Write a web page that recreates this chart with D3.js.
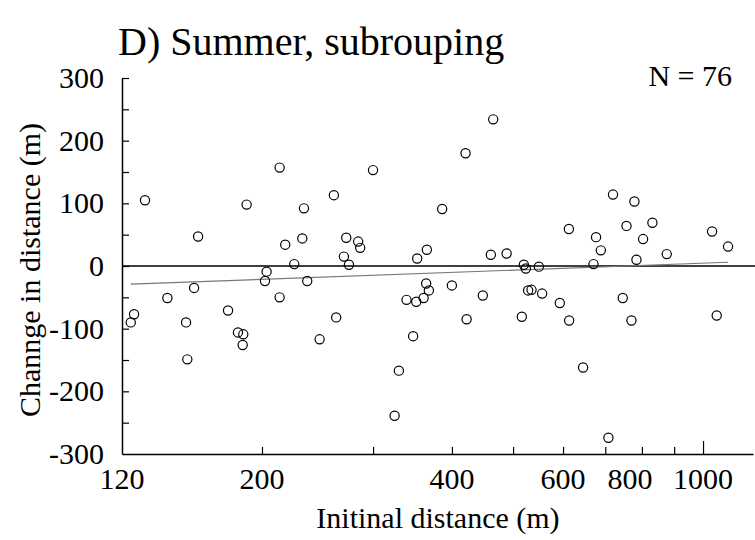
<!DOCTYPE html>
<html>
<head>
<meta charset="utf-8">
<script src="https://cdn.jsdelivr.net/npm/d3@7"></script>
<style>
  body { margin: 0; background: #fff; }
  svg { display: block; }
  text { font-family: "Liberation Serif", "Times New Roman", serif; fill: #000; }
</style>
</head>
<body>
<svg id="chart" width="755" height="540"></svg>
<script>
// initial distance (m) and change in distance (m)
var initialDistance = [
  123.9, 125.4, 130.5, 141.6, 151.6, 152.3, 156.1, 158.4, 176.7, 183.2,
  186.8, 186.4, 189.1, 213.3, 299.9, 465.0, 420.4, 260.0, 233.1, 386.0,
  217.7, 231.7, 272.0, 284.1, 286.2, 225.0, 269.7, 274.7, 203.4, 202.2,
  235.9, 352.4, 365.0, 461.0, 488.3, 213.3, 364.1, 367.7, 399.9, 447.7,
  262.2, 246.8, 338.9, 351.1, 360.7, 422.0, 347.2, 329.6, 324.5, 720.0,
  778.5, 612.9, 676.8, 688.7, 756.3, 831.3, 803.5, 1033.5, 1095.6, 876.0,
  784.3, 670.5, 520.0, 523.8, 549.3, 528.2, 534.8, 555.9, 592.9, 746.1,
  516.2, 613.5, 770.1, 1051.2, 645.5, 708.0
];
var changeInDistance = [
  -90, -77, 105, -51, -90, -149, -35, 47, -71, -106,
  -109, -126, 98, 157, 153, 234, 180, 113, 92, 91,
  34, 44, 45, 39, 29, 3, 15, 2, -9, -24,
  -24, 12, 26, 18, 20, -50, -28, -39, -31, -47,
  -82, -117, -54, -57, -51, -85, -112, -167, -239, 114,
  103, 59, 46, 25, 64, 69, 43, 55, 31, 19,
  10, 3, 2, -4, -1, -39, -38, -44, -59, -51,
  -81, -87, -87, -79, -162, -274
];

// fitted line, end points
var fitX = [123.9, 1095.6];
var fitY = [-29, 6];

var xTickValues = [200, 300, 400, 500, 600, 700, 800, 900, 1000];
var xTickLabels = [120, 200, 400, 600, 800, 1000];
var yTickValues = [-250, -200, -150, -100, -50, 0, 50, 100, 150, 200, 250, 300];
var yTickLabels = [-300, -200, -100, 0, 100, 200, 300];

var data = initialDistance.map(function (d, i) {
  return { x: d, y: changeInDistance[i] };
});

var dimensions = {
  width: 755,
  height: 540,
  margin: { top: 78, right: 2, bottom: 86, left: 122 },
};
dimensions.boundedWidth =
  dimensions.width - dimensions.margin.left - dimensions.margin.right;
dimensions.boundedHeight =
  dimensions.height - dimensions.margin.top - dimensions.margin.bottom;

var svg = d3.select("#chart");

var bounds = svg
  .append("g")
  .attr(
    "transform",
    "translate(" + dimensions.margin.left + "," + dimensions.margin.top + ")"
  );

var xScale = d3
  .scaleLog()
  .domain([120, 1200])
  .range([0, dimensions.boundedWidth]);

var yScale = d3
  .scaleLinear()
  .domain([-300, 300])
  .range([dimensions.boundedHeight, 0]);

// x axis: ticks point upward, labels drawn separately
var xAxis = d3
  .axisTop(xScale)
  .tickValues(xTickValues)
  .tickSize(7)
  .tickFormat("")
  .tickSizeOuter(0);

var xAxisG = bounds
  .append("g")
  .attr("transform", "translate(0," + dimensions.boundedHeight + ")")
  .call(xAxis);
xAxisG.select(".domain").attr("stroke", "#000").attr("stroke-width", 1.5);
xAxisG.selectAll(".tick line")
  .attr("stroke", "#000")
  .attr("stroke-width", 1.2)
  .attr("y2", function (d) { return d === 1000 ? -13 : -7; });

bounds
  .append("g")
  .selectAll("text")
  .data(xTickLabels)
  .enter()
  .append("text")
  .attr("x", function (d) { return xScale(d) - (d === 800 ? 12 : 0); })
  .attr("y", dimensions.boundedHeight + 35)
  .attr("text-anchor", "middle")
  .attr("font-size", 30)
  .text(function (d) { return d; });

// y axis: ticks point right
var yAxis = d3
  .axisRight(yScale)
  .tickValues(yTickValues)
  .tickSize(7)
  .tickFormat("")
  .tickSizeOuter(0);

var yAxisG = bounds.append("g").call(yAxis);
yAxisG.select(".domain").attr("stroke", "#000").attr("stroke-width", 1.5);
yAxisG.selectAll(".tick line").attr("stroke", "#000").attr("stroke-width", 1.2);

bounds
  .append("g")
  .selectAll("text")
  .data(yTickLabels)
  .enter()
  .append("text")
  .attr("x", -18)
  .attr("y", function (d) { return yScale(d); })
  .attr("dy", "0.33em")
  .attr("text-anchor", "end")
  .attr("font-size", 30)
  .text(function (d) { return d; });

// zero line
bounds
  .append("line")
  .attr("x1", 0)
  .attr("x2", dimensions.boundedWidth + 2)
  .attr("y1", yScale(0))
  .attr("y2", yScale(0))
  .attr("stroke", "#000")
  .attr("stroke-width", 1.5);

// fitted line
bounds
  .append("path")
  .datum(fitX.map(function (d, i) { return [d, fitY[i]]; }))
  .attr("fill", "none")
  .attr("stroke", "#777")
  .attr("stroke-width", 1.2)
  .attr(
    "d",
    d3.line()
      .x(function (d) { return xScale(d[0]); })
      .y(function (d) { return yScale(d[1]); })
  );

// points
bounds
  .selectAll("circle")
  .data(data)
  .enter()
  .append("circle")
  .attr("cx", function (d) { return xScale(d.x); })
  .attr("cy", function (d) { return yScale(d.y); })
  .attr("r", 4.6)
  .attr("fill", "none")
  .attr("stroke", "#000")
  .attr("stroke-width", 1.2);

// titles
svg
  .append("text")
  .attr("x", 118)
  .attr("y", 55)
  .attr("font-size", 40)
  .text("D) Summer, subrouping");

svg
  .append("text")
  .attr("x", 732)
  .attr("y", 86)
  .attr("text-anchor", "end")
  .attr("font-size", 30)
  .text("N = 76");

svg
  .append("text")
  .attr("x", dimensions.margin.left + 316)
  .attr("y", 528)
  .attr("text-anchor", "middle")
  .attr("font-size", 30)
  .text("Initinal distance (m)");

svg
  .append("text")
  .attr("transform", "translate(40," + 270 + ") rotate(-90)")
  .attr("text-anchor", "middle")
  .attr("font-size", 30)
  .text("Channge in distance (m)");
</script>
</body>
</html>
